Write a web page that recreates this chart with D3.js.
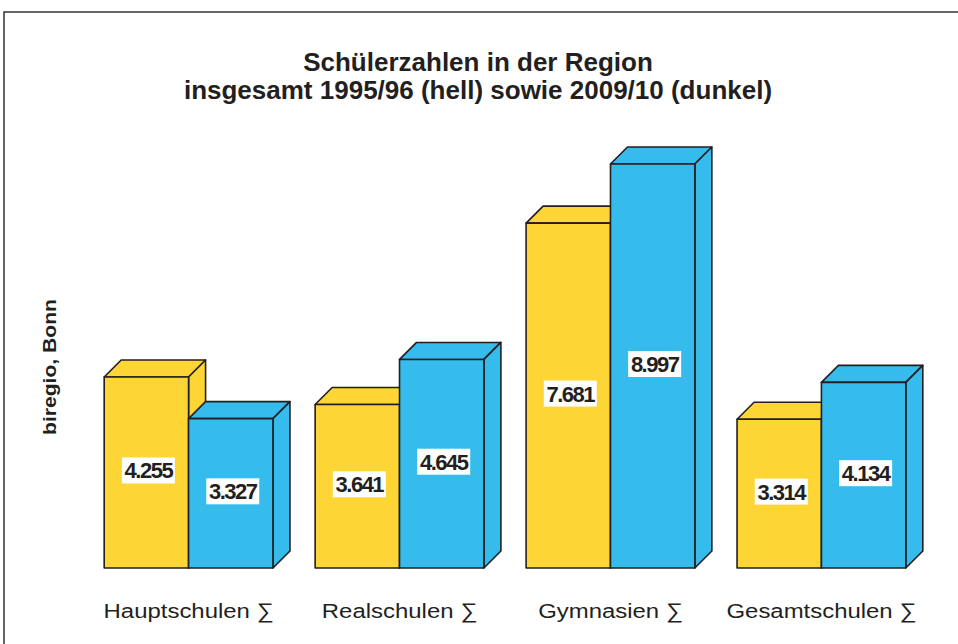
<!DOCTYPE html>
<html><head><meta charset="utf-8">
<script src="https://cdn.jsdelivr.net/npm/d3@7"></script>
<style>body{margin:0;background:#fff}svg{display:block}</style>
</head><body>
<script>
const categories = ["Hauptschulen ∑", "Realschulen ∑", "Gymnasien ∑", "Gesamtschulen ∑"];
const series = ["1995/96", "2009/10"];
const values1995 = [4.255, 3.641, 7.681, 3.314];
const values2009 = [3.327, 4.645, 8.997, 4.134];
const valueLabels1995 = ["4.255", "3.641", "7.681", "3.314"];
const valueLabels2009 = ["3.327", "4.645", "8.997", "4.134"];
const colors = ["#FDD535", "#35BCEC"];

const W = 958, H = 644;
const svg = d3.select("body").append("svg").attr("width", W).attr("height", H);
const font = "'Liberation Sans', Arial, sans-serif";

// frame
svg.append("path").attr("d", `M4,${H+5} L4,12 L${W+5},12`)
  .attr("fill", "none").attr("stroke", "#333").attr("stroke-width", 1.5);

const x0 = d3.scaleBand().domain(categories).range([62, 948]).paddingInner(0.2).paddingOuter(0.2);
const x1 = d3.scaleBand().domain(series).range([0, x0.bandwidth()]);
const y = d3.scaleLinear().domain([0, 10]).range([568, 119]);
const dx = 17, dy = 17;

const data = [];
categories.forEach((c, i) => {
  data.push({cat: c, s: series[0], v: values1995[i], lab: valueLabels1995[i], col: colors[0]});
  data.push({cat: c, s: series[1], v: values2009[i], lab: valueLabels2009[i], col: colors[1]});
});

const g = svg.append("g");
data.forEach(d => {
  const xa = x0(d.cat) + x1(d.s), xb = xa + x1.bandwidth();
  const yt = y(d.v), yb = y(0);
  const bar = g.append("g");
  const st = {fill: d.col, stroke: "#231f20", "stroke-width": 1.6, "stroke-linejoin": "round"};
  const apply = sel => { Object.entries(st).forEach(([k, v]) => sel.attr(k, v)); return sel; };
  apply(bar.append("polygon").attr("points", [[xa, yt], [xa+dx, yt-dy], [xb+dx, yt-dy], [xb, yt]].join(" ")));
  apply(bar.append("polygon").attr("points", [[xb, yt], [xb+dx, yt-dy], [xb+dx, yb-dy], [xb, yb]].join(" ")));
  apply(bar.append("rect").attr("x", xa).attr("y", yt).attr("width", xb-xa).attr("height", yb-yt));
  const cx = (xa + xb) / 2 + 2, cy = (yt + yb) / 2 - 2;
  bar.append("rect").attr("fill", "#fff").attr("x", cx - 26.5).attr("y", cy - 13).attr("width", 53).attr("height", 26);
  bar.append("text").attr("x", cx).attr("y", cy + 8).attr("text-anchor", "middle")
    .attr("font-family", font).attr("font-weight", "bold")
    .attr("font-size", 22).attr("letter-spacing", "-1.5px").attr("fill", "#231f20").text(d.lab);
});

// category axis
const ax = svg.append("g").attr("transform", `translate(0,${y(0)})`)
  .call(d3.axisBottom(x0).tickSize(0).tickPadding(0));
ax.select(".domain").remove();
ax.selectAll("text").attr("dy", null).attr("y", 50).attr("transform", "scale(1.14,1)")
  .attr("font-family", font).attr("font-size", 21).attr("fill", "#231f20");

// title
const title = svg.append("text").attr("x", 478).attr("text-anchor", "middle")
  .attr("font-family", font).attr("font-weight", "bold").attr("font-size", 26).attr("fill", "#231f20");
title.append("tspan").attr("x", 478).attr("y", 71).text("Schülerzahlen in der Region");
title.append("tspan").attr("x", 478).attr("y", 99).text("insgesamt 1995/96 (hell) sowie 2009/10 (dunkel)");

// side label
svg.append("text").attr("transform", "translate(56,367) rotate(-90) scale(1.11,1)").attr("text-anchor", "middle")
  .attr("font-family", font).attr("font-weight", "bold").attr("font-size", 19).attr("fill", "#231f20")
  .text("biregio, Bonn");
</script>
</body></html>
